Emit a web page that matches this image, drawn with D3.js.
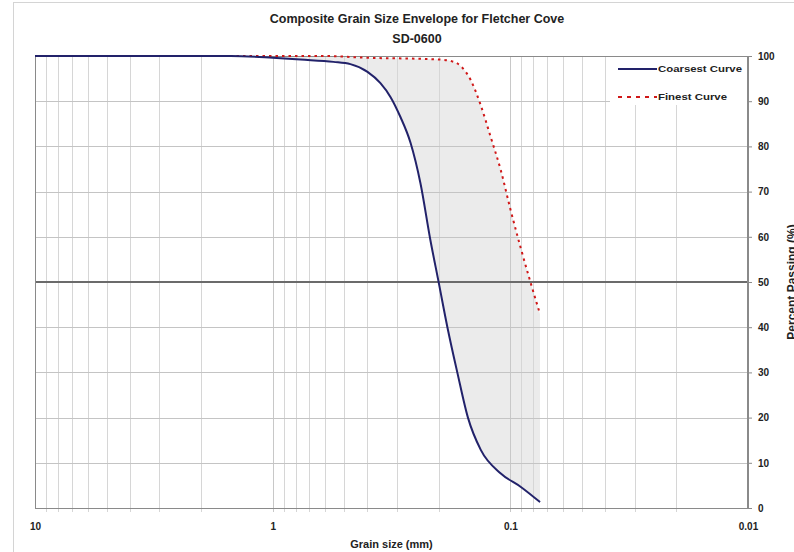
<!DOCTYPE html>
<html>
<head>
<meta charset="utf-8">
<script src="https://cdn.jsdelivr.net/npm/d3@7"></script>
<style>
  html, body { margin: 0; padding: 0; background: #fff; }
  svg { display: block; font-family: "Liberation Sans", Arial, sans-serif; }
</style>
</head>
<body>
<svg id="chart" width="794" height="552"></svg>
<script>
// ---- Data ----
const titleLines = ["Composite Grain Size Envelope for Fletcher Cove", "SD-0600"];
const xTickValues = [10, 1, 0.1, 0.01];
const xTickLabels = ["10", "1", "0.1", "0.01"];
const yTickValues = [0, 10, 20, 30, 40, 50, 60, 70, 80, 90, 100];
const seriesNames = ["Coarsest Curve", "Finest Curve"];

const coarseSize = [10, 1.5, 1.0, 0.764, 0.555, 0.471, 0.399, 0.352, 0.319, 0.290, 0.263, 0.239, 0.217, 0.200, 0.184, 0.167, 0.151, 0.133, 0.110, 0.090, 0.075];
const coarsePct  = [100, 100, 99.6, 99.2, 98.7, 98.2, 96.5, 94.0, 90.9, 86.5, 80.8, 71.9, 59.3, 49.8, 40.0, 29.9, 20.1, 12.8, 7.7, 4.6, 1.3];

const finestSize = [10, 0.6, 0.40, 0.25, 0.1965, 0.1783, 0.1619, 0.1469, 0.1334, 0.1210, 0.1098, 0.0997, 0.0904, 0.0821, 0.075];
const finestPct  = [100, 100, 99.6, 99.4, 99.2, 98.9, 97.8, 94.7, 89.2, 82.1, 74.8, 65.9, 57.5, 49.8, 42.9];

// ---- Layout ----
const L = 35, R = 748, T = 56, B = 508;

const svg = d3.select("#chart");

// outer frame
svg.append("rect").attr("x", 13.5).attr("y", 2.5).attr("width", 800).attr("height", 600)
  .attr("fill", "none").attr("stroke", "#d4d4d4");

const x = d3.scaleLog().domain([10, 0.01]).range([L, R]);
const y = d3.scaleLinear().domain([0, 100]).range([B, T]);

const coarse = coarseSize.map((d, i) => ({ d, p: coarsePct[i] }));
const finest = finestSize.map((d, i) => ({ d, p: finestPct[i] }));

// ---- Envelope fill (between the two curves) ----
const defs = svg.append("defs");
defs.append("clipPath").attr("id", "aboveCoarse")
  .append("path")
  .attr("d", d3.area().x(d => x(d.d)).y0(T - 2).y1(d => y(d.p)).curve(d3.curveMonotoneX)(coarse));

svg.append("path")
  .attr("clip-path", "url(#aboveCoarse)")
  .attr("d", d3.area().x(d => x(d.d)).y0(B).y1(d => y(d.p)).curve(d3.curveMonotoneX)(finest))
  .attr("fill", "#ebebeb");

// ---- Grid ----
const minorTicks = [];
for (let e = -2; e < 1; e++) {
  for (let m = 2; m <= 9; m++) minorTicks.push(m * Math.pow(10, e));
}
svg.append("g").selectAll("line").data(minorTicks).join("line")
  .attr("x1", d => Math.round(x(d)) + 0.5).attr("x2", d => Math.round(x(d)) + 0.5)
  .attr("y1", T).attr("y2", B + 4)
  .attr("stroke", "#d6d6d6").attr("stroke-width", 1);

svg.append("g").selectAll("line").data([1, 0.1]).join("line")
  .attr("x1", d => Math.round(x(d)) + 0.5).attr("x2", d => Math.round(x(d)) + 0.5)
  .attr("y1", T).attr("y2", B + 4)
  .attr("stroke", "#c8c8c8").attr("stroke-width", 1);

svg.append("g").selectAll("line").data(yTickValues.filter(v => v > 0 && v < 100 && v !== 50)).join("line")
  .attr("x1", L).attr("x2", R)
  .attr("y1", d => Math.round(y(d)) + 0.5).attr("y2", d => Math.round(y(d)) + 0.5)
  .attr("stroke", "#c4c4c4").attr("stroke-width", 1);

// 50% reference line
svg.append("line")
  .attr("x1", L).attr("x2", R).attr("y1", y(50)).attr("y2", y(50))
  .attr("stroke", "#6b6b6b").attr("stroke-width", 2);

// ---- Plot border ----
svg.append("rect").attr("x", L + 0.5).attr("y", T + 0.5)
  .attr("width", R - L - 1).attr("height", B - T)
  .attr("fill", "none").attr("stroke", "#8a8a8a").attr("stroke-width", 1);

// ---- Curves ----
const line = d3.line().x(d => x(d.d)).y(d => y(d.p)).curve(d3.curveMonotoneX);

svg.append("path").attr("d", line(finest))
  .attr("fill", "none").attr("stroke", "#d01818").attr("stroke-width", 2)
  .attr("stroke-dasharray", "2.5,4");

svg.append("path").attr("d", line(coarse))
  .attr("fill", "none").attr("stroke", "#22226a").attr("stroke-width", 2);

// ---- Right axis ----
const yAxis = d3.axisRight(y).tickValues(yTickValues).tickSize(4).tickPadding(6)
  .tickFormat(d3.format("d"));
const gy = svg.append("g").attr("transform", `translate(${R},0)`).call(yAxis);
gy.select(".domain").attr("stroke", "#8a8a8a");
gy.selectAll(".tick line").attr("stroke", "#8a8a8a");
gy.selectAll(".tick text").attr("font-size", 10).attr("font-weight", "bold").attr("fill", "#222")
  .attr("font-family", "Liberation Sans, Arial, sans-serif");

// ---- Bottom axis labels ----
const xAxis = d3.axisBottom(x).tickValues(xTickValues).tickSize(0).tickPadding(15)
  .tickFormat((d, i) => xTickLabels[i]);
const gx = svg.append("g").attr("transform", `translate(0,${B})`).call(xAxis);
gx.select(".domain").remove();
gx.selectAll(".tick text").attr("font-size", 10).attr("font-weight", "bold").attr("fill", "#222")
  .attr("font-family", "Liberation Sans, Arial, sans-serif");

// ---- Axis titles ----
svg.append("text").attr("x", (L + R) / 2).attr("y", 548)
  .attr("text-anchor", "middle").attr("font-size", 11).attr("font-weight", "bold").attr("fill", "#222")
  .text("Grain size (mm)");

svg.append("text").attr("transform", `translate(796,${(T + B) / 2}) rotate(-90)`)
  .attr("text-anchor", "middle").attr("font-size", 12).attr("font-weight", "bold").attr("fill", "#222")
  .text("Percent Passing (%)");

// ---- Title ----
svg.append("text").attr("x", 417).attr("y", 23)
  .attr("text-anchor", "middle").attr("font-size", 12.5).attr("font-weight", "bold").attr("fill", "#222")
  .text(titleLines[0]);
svg.append("text").attr("x", 417).attr("y", 43)
  .attr("text-anchor", "middle").attr("font-size", 12.5).attr("font-weight", "bold").attr("fill", "#222")
  .text(titleLines[1]);

// ---- Legend ----
const lg = svg.append("g");
lg.append("rect").attr("x", 610).attr("y", T + 1).attr("width", R - 611).attr("height", 48).attr("fill", "#fff");
const legendY = [69, 97];
lg.append("line").attr("x1", 618).attr("x2", 657).attr("y1", legendY[0]).attr("y2", legendY[0])
  .attr("stroke", "#22226a").attr("stroke-width", 2);
lg.append("line").attr("x1", 618).attr("x2", 657).attr("y1", legendY[1]).attr("y2", legendY[1])
  .attr("stroke", "#d01818").attr("stroke-width", 2).attr("stroke-dasharray", "4,5");
seriesNames.forEach((n, i) => {
  lg.append("text").attr("x", 658).attr("y", legendY[i]).attr("dy", "0.35em")
    .attr("font-size", 9.5).attr("font-weight", "bold").attr("fill", "#222")
    .attr("textLength", i === 0 ? 84 : 69).attr("lengthAdjust", "spacingAndGlyphs")
    .text(n);
});
</script>
</body>
</html>
